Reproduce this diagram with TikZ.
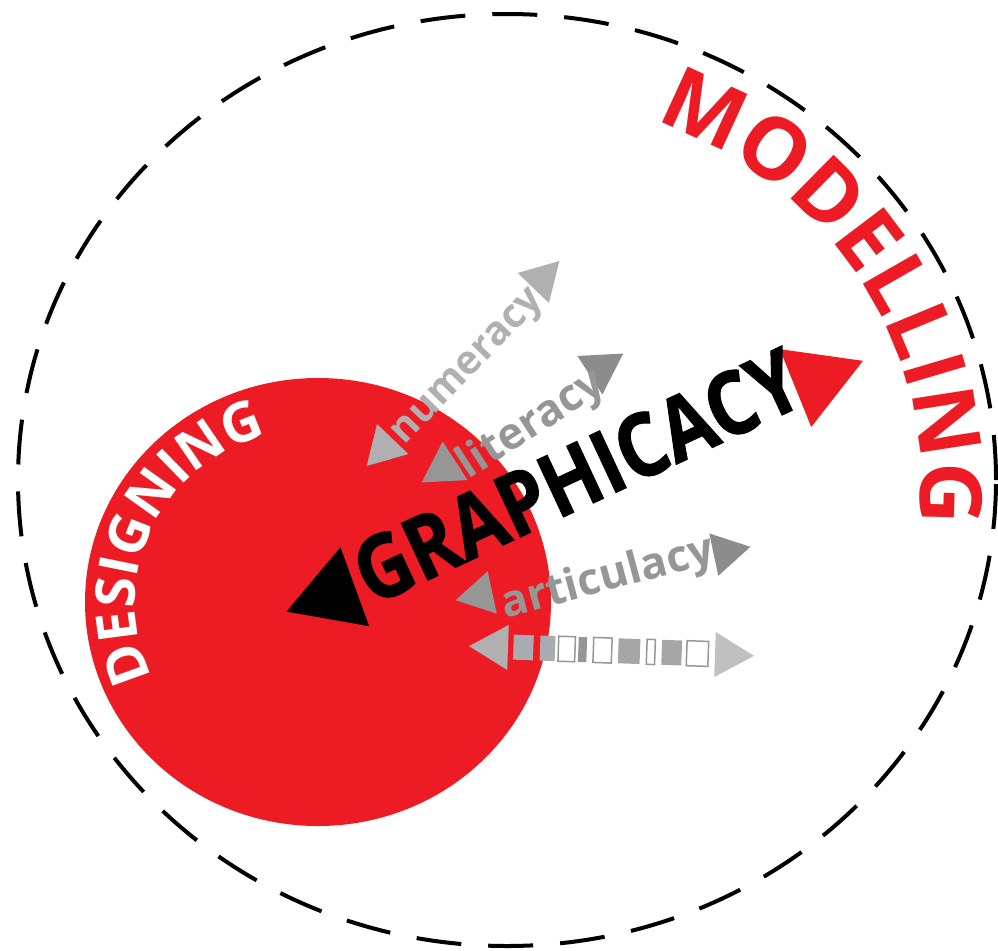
\documentclass[tikz,border=0pt]{standalone}
\usepackage{fontspec}
\setmainfont{Open Sans}
\newfontfamily\heavyfont[FakeBold=1.2]{Open Sans}
\usetikzlibrary{shapes.geometric,decorations.text}
\definecolor{rd}{RGB}{237,28,36}
\definecolor{gA}{RGB}{176,176,176}
\definecolor{gB}{RGB}{150,150,150}
\definecolor{gC}{RGB}{140,140,140}
\definecolor{gS}{RGB}{168,172,176}
\newcommand{\dfont}{\bfseries\fontsize{55}{55}\selectfont\color{white}}
\newcommand{\mfont}{\bfseries\fontsize{86}{86}\selectfont\color{rd}}
\begin{document}
\begin{tikzpicture}[x=1pt,y=1pt,
  arrowtri/.style={regular polygon, regular polygon sides=3, inner sep=0pt, draw=none},
  smallword/.style={font=\bfseries\fontsize{44}{44}\selectfont, inner sep=0pt},
  sqfill/.style={fill=gS, draw=none},
  sqline/.style={draw=gB, line width=1.5pt, fill=white}]
\useasboundingbox (0,-950) rectangle (998,0);
\coordinate (ec) at (507,-480);
\draw[line width=4pt, dash pattern=on 45pt off 27pt] (ec) ellipse [x radius=489, y radius=466];
\coordinate (rc) at (318,-602);
\fill[rd] (rc) ellipse [x radius=233, y radius=224];
% DESIGNING
\path[decorate, decoration={text along path, text align=center, text={|\dfont|DESIGNING}}]
  ([shift={(216:183 and 174)}]rc) arc[start angle=216, end angle=96, x radius=183, y radius=174];
% MODELLING
\coordinate (mc) at (515,-482);
\path[decorate, decoration={text along path, text align=center, text={|\mfont|MODELLING}}]
  ([shift={(111:406 and 384)}]mc) arc[start angle=111, end angle=-49, x radius=406, y radius=384];
% GRAPHICACY
\node[arrowtri, fill=black, minimum size=97pt, rotate=110] (tb) at (332,-595) {};
\node[arrowtri, fill=rd, minimum size=97pt, rotate=-68] (tr) at (818,-379) {};
\node[font=\heavyfont\bfseries\fontsize{88}{88}\selectfont, inner sep=0pt, rotate=25] (graph) at (577,-476) {\scalebox{0.86}[1]{GRAPHICACY}};
% numeracy
\node[arrowtri, fill=gA, minimum size=50pt, rotate=136] (nl) at (384,-448) {};
\node[arrowtri, fill=gA, minimum size=50pt, rotate=-44] (nr) at (542,-279) {};
\node[smallword, font=\bfseries\fontsize{40}{40}\selectfont, text=gA, rotate=46] (num) at (470,-369) {numeracy};
% literacy
\node[arrowtri, fill=gB, minimum size=53pt, rotate=123] (ll) at (444,-468) {};
\node[arrowtri, fill=gC, minimum size=53pt, rotate=-57] (lr) at (601,-368) {};
\node[smallword, text=gB, rotate=33] (lit) at (532,-425) {literacy};
% articulacy
\node[arrowtri, fill=gB, minimum size=50pt, rotate=102] (al) at (480,-595) {};
\node[arrowtri, fill=gC, minimum size=50pt, rotate=-78] (ar) at (726,-552) {};
\node[smallword, text=gB, rotate=15] (art) at (608,-579) {articulacy};
% squares row
\node[arrowtri, fill=gA, minimum size=52pt, rotate=88] (sl) at (495,-647) {};
\node[arrowtri, fill=gA!80, minimum size=52pt, rotate=-92] (sr) at (728,-655) {};
\begin{scope}[rotate around={-2:(610,-651)}]
  \path[sqfill] (513.3,-663) rectangle (533.3,-638);
  \path[sqfill] (540,-663) rectangle (555,-638);
  \path[sqline] (558.3,-663) rectangle (575,-638);
  \path[sqfill, fill=gB] (578.3,-663) rectangle (586.7,-638);
  \path[sqline] (593.3,-663) rectangle (611.7,-638);
  \path[sqfill, fill=gB!85] (618.3,-663) rectangle (640,-638);
  \path[sqline] (646.7,-663) rectangle (655,-638);
  \path[sqfill, fill=gB!85] (661.7,-663) rectangle (681.7,-638);
  \path[sqline] (686.7,-663) rectangle (708.3,-638);
\end{scope}
\end{tikzpicture}
\end{document}
